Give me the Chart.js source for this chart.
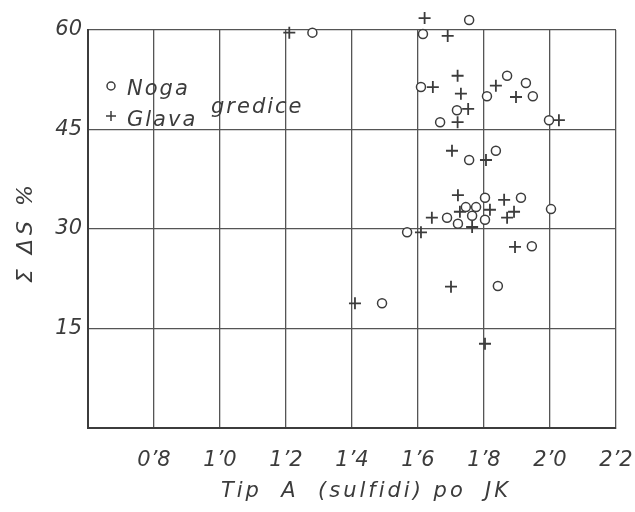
<!DOCTYPE html>
<html lang="hr">
<head>
    <meta charset="UTF-8">
    <title>Tip A (sulfidi) po JK</title>
    <script src="https://cdn.jsdelivr.net/npm/chart.js"></script>
    <style>
        body {
            margin: 0;
            background: #fff;
        }
        #wrap {
            width: 635px;
            height: 512px;
        }
    </style>
</head>
<body>
    <div id="wrap">
        <canvas id="chart" width="635" height="512"></canvas>
    </div>

    <script>
        // tick labels (decimal mark as in the original: 0'8 = 0.8)
        const xTickLabels = ['', '0’8', '1’0', '1’2', '1’4', '1’6', '1’8', '2’0', '2’2'];
        const yTickLabels = ['', '15', '30', '45', '60'];

        // Noga gredice (o)
        const nogaX = [1.28, 1.615, 1.755, 1.609, 1.718, 1.667, 1.809, 1.87, 1.927, 1.948, 1.997,
                       1.755, 1.836, 1.803, 1.912, 2.003, 1.745, 1.776, 1.764, 1.688, 1.721, 1.803,
                       1.567, 1.945, 1.491, 1.842];
        const nogaY = [59.6, 59.4, 61.5, 51.4, 47.9, 46.1, 50.0, 53.1, 52.0, 50.0, 46.4,
                       40.4, 41.8, 34.7, 34.7, 33.0, 33.3, 33.3, 32.0, 31.7, 30.8, 31.4,
                       29.5, 27.4, 18.8, 21.4];

        // Glava gredice (+)
        const glavaX = [1.21, 1.62, 1.69, 1.645, 1.72, 1.73, 1.752, 1.72, 1.836, 1.897, 2.027,
                        1.703, 1.806, 1.721, 1.861, 1.642, 1.727, 1.764, 1.818, 1.870, 1.891,
                        1.609, 1.894, 1.409, 1.70, 1.803];
        const glavaY = [59.6, 61.8, 59.1, 51.4, 53.1, 50.4, 48.1, 46.1, 51.6, 49.9, 46.4,
                        41.8, 40.4, 35.1, 34.4, 31.7, 32.6, 30.3, 32.9, 31.7, 32.6,
                        29.5, 27.3, 18.8, 21.3, 12.7];

        const xTitle = 'Tip  A  (sulfidi) po  JK';
        const yTitle = 'Σ ΔS %';

        const INK = '#3c3c3c';
        const FONT = 'DejaVu Sans';

        function toPoints(xs, ys) {
            return xs.map((x, i) => ({ x: x, y: ys[i] }));
        }

        // points above 60 sit outside the frame in the original; let them be drawn
        const overTop = {
            id: 'overTop',
            beforeDatasetsDraw(chart) {
                chart.chartArea.top -= 20;
            },
            afterDatasetsDraw(chart) {
                chart.chartArea.top += 20;
            }
        };

        // legend inside the plot and the spaced-out axis titles
        const lettering = {
            id: 'lettering',
            afterDraw(chart) {
                const ctx = chart.ctx;
                const a = chart.chartArea;
                const x0 = a.left + 23;
                ctx.save();
                ctx.strokeStyle = INK;
                ctx.fillStyle = INK;
                ctx.lineWidth = 1.5;
                ctx.beginPath();
                ctx.arc(x0, a.top + 56, 4, 0, Math.PI * 2);
                ctx.stroke();
                ctx.beginPath();
                ctx.moveTo(x0 - 5, a.top + 86);
                ctx.lineTo(x0 + 5, a.top + 86);
                ctx.moveTo(x0, a.top + 81);
                ctx.lineTo(x0, a.top + 91);
                ctx.stroke();

                ctx.letterSpacing = '2px';
                ctx.font = 'italic 21px ' + FONT;
                ctx.textBaseline = 'alphabetic';
                ctx.textAlign = 'left';
                ctx.fillText('Noga', x0 + 16, a.top + 65);
                ctx.fillText('Glava', x0 + 16, a.top + 96);
                ctx.fillText('gredice', x0 + 100, a.top + 83);

                ctx.letterSpacing = '3px';
                ctx.font = 'italic 21px ' + FONT;
                ctx.textAlign = 'center';
                ctx.textBaseline = 'middle';
                ctx.fillText(xTitle, 366, 492);

                ctx.translate(26, 232);
                ctx.rotate(-Math.PI / 2);
                ctx.letterSpacing = '4px';
                ctx.font = 'italic 22px ' + FONT;
                ctx.fillText(yTitle, 0, 0);
                ctx.restore();
            }
        };

        new Chart(document.getElementById('chart'), {
            type: 'scatter',
            data: {
                datasets: [
                    {
                        label: 'Noga',
                        data: toPoints(nogaX, nogaY),
                        pointStyle: 'circle',
                        pointRadius: 4.5,
                        borderColor: INK,
                        backgroundColor: '#fff',
                        borderWidth: 1.5,
                        clip: false
                    },
                    {
                        label: 'Glava',
                        data: toPoints(glavaX, glavaY),
                        pointStyle: 'cross',
                        pointRadius: 6,
                        borderColor: INK,
                        backgroundColor: INK,
                        borderWidth: 1.8,
                        clip: false
                    }
                ]
            },
            options: {
                responsive: false,
                animation: false,
                layout: { padding: { top: 30, right: 19, left: 0, bottom: 0 } },
                plugins: {
                    legend: { display: false },
                    tooltip: { enabled: false }
                },
                scales: {
                    x: {
                        type: 'linear',
                        min: 0.6,
                        max: 2.2,
                        afterFit(scale) {
                            scale.height = 84;
                            scale.paddingLeft = 0;
                            scale.paddingRight = 0;
                        },
                        border: { color: INK, width: 2 },
                        grid: { color: '#555', lineWidth: 1.3, drawTicks: false },
                        ticks: {
                            stepSize: 0.2,
                            padding: 20,
                            color: INK,
                            font: { family: FONT, size: 21, style: 'italic' },
                            callback: (v, i) => xTickLabels[i]
                        }
                    },
                    y: {
                        type: 'linear',
                        min: 0,
                        max: 60,
                        afterFit(scale) {
                            scale.width = 88;
                            scale.paddingTop = 0;
                            scale.paddingBottom = 0;
                        },
                        border: { color: INK, width: 2 },
                        grid: { color: '#555', lineWidth: 1.3, drawTicks: false },
                        ticks: {
                            stepSize: 15,
                            padding: 6,
                            color: INK,
                            font: { family: FONT, size: 21, style: 'italic' },
                            callback: (v, i) => yTickLabels[i]
                        }
                    }
                }
            },
            plugins: [overTop, lettering]
        });
    </script>
</body>
</html>
